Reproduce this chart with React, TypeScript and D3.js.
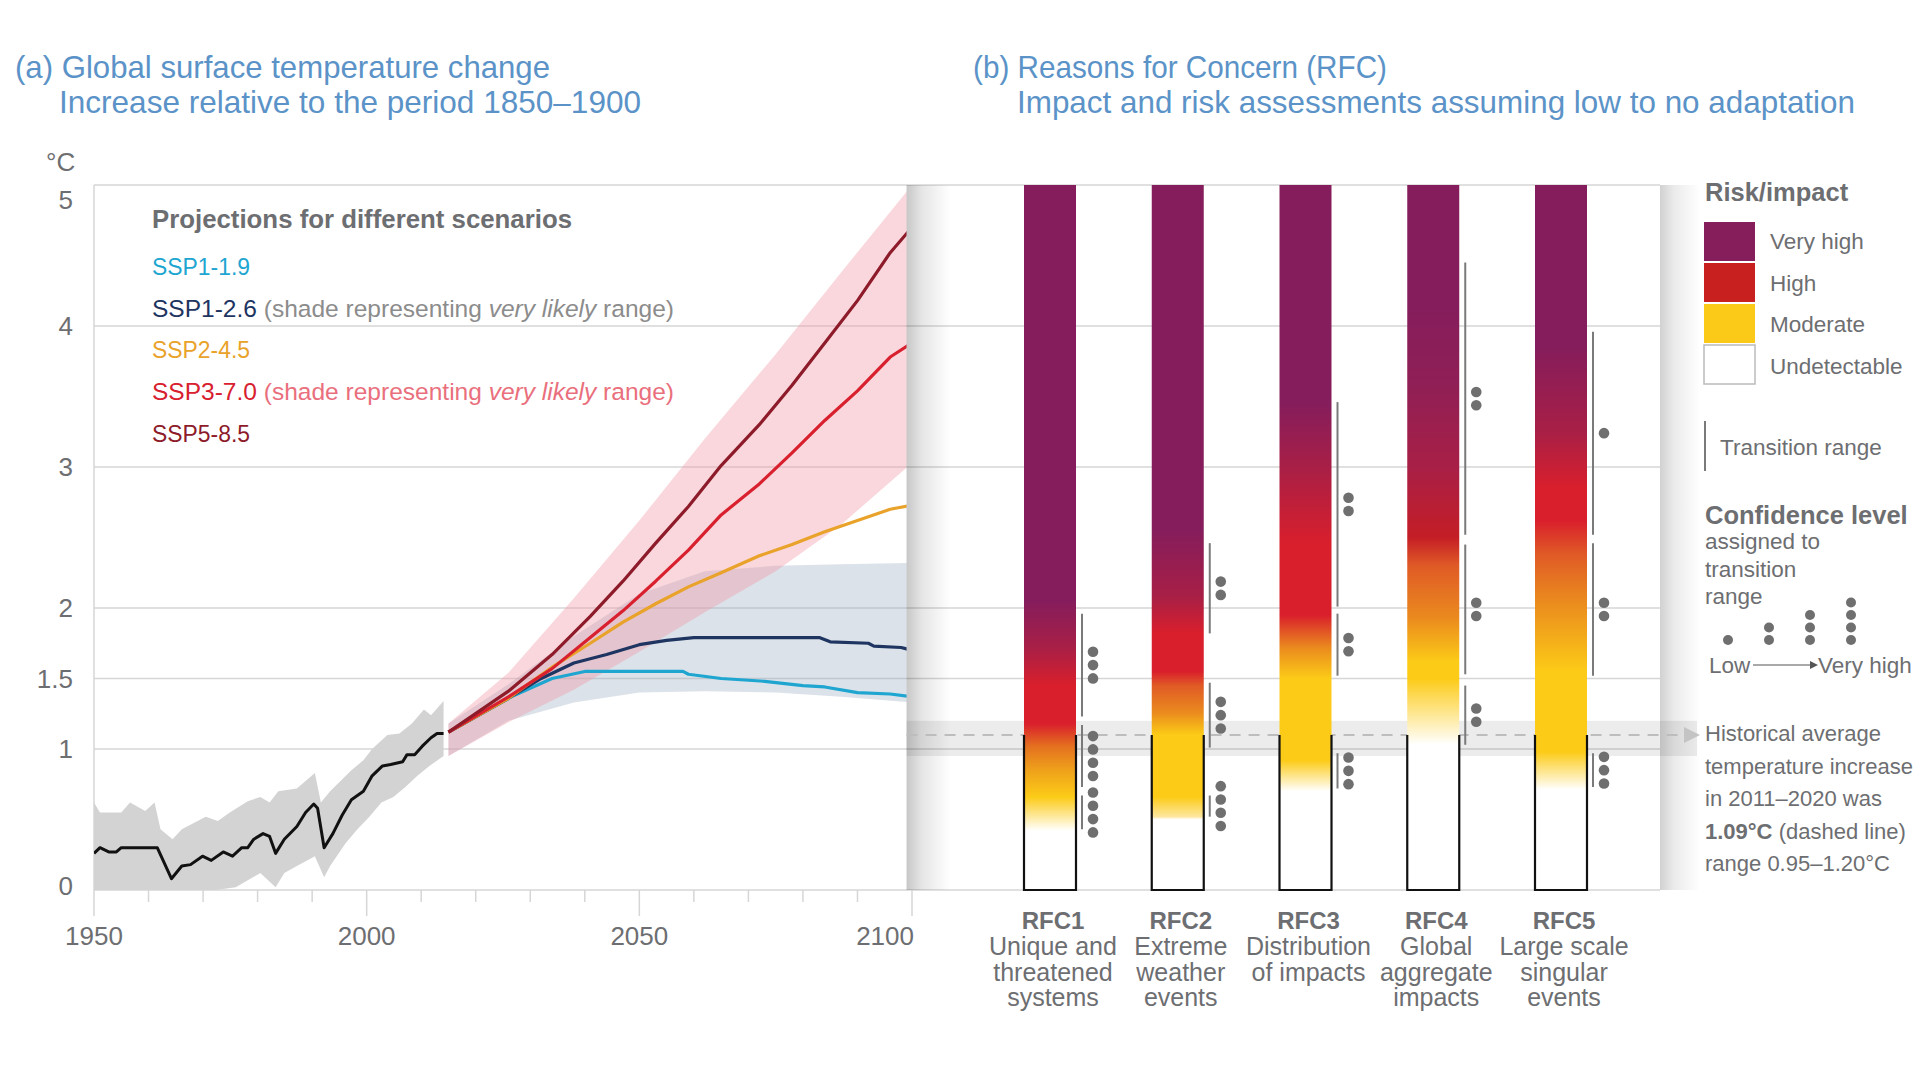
import * as d3 from "d3";

const FONT = "'Liberation Sans', Arial, Helvetica, sans-serif";
const GREY_TEXT = "#6d6e71";
const TITLE_BLUE = "#5b93c8";
const GRID = "#d6d6d6";

// historical simulations, °C relative to 1850–1900
const HIST_MEAN: [number, number][] = [
  [1950, 0.26], [1951.1, 0.3], [1952.7, 0.27], [1954.1, 0.27], [1955, 0.3], [1961.6, 0.3],
  [1964.2, 0.08], [1966.1, 0.17], [1967.7, 0.18], [1969.9, 0.24], [1971.5, 0.21], [1973.7, 0.27],
  [1975.4, 0.24], [1977.1, 0.3], [1978.2, 0.3], [1979.3, 0.36], [1981, 0.4], [1982.2, 0.38],
  [1983.3, 0.26], [1984.9, 0.36], [1987.2, 0.45], [1988.8, 0.55], [1990.3, 0.61], [1991, 0.58],
  [1992.2, 0.3], [1993.8, 0.4], [1995.5, 0.53], [1997.2, 0.64], [1999.4, 0.7], [2001, 0.81],
  [2002.9, 0.88], [2004.4, 0.89], [2006.6, 0.91], [2007.4, 0.96], [2008.8, 0.96], [2010.2, 1.02],
  [2011.8, 1.08], [2012.9, 1.11], [2014.1, 1.11],
];
const HIST_UPPER: [number, number][] = [
  [1950, 0.62], [1951.1, 0.55], [1955, 0.55], [1956.6, 0.62], [1959.4, 0.56], [1961.1, 0.62],
  [1962.2, 0.43], [1964.4, 0.36], [1966.1, 0.43], [1970.5, 0.52], [1972.7, 0.49], [1974.9, 0.55],
  [1978.2, 0.63], [1980.5, 0.66], [1982.2, 0.62], [1983.8, 0.7], [1987.2, 0.72], [1990.5, 0.83],
  [1991.6, 0.62], [1993.3, 0.7], [1997.2, 0.85], [1999.4, 0.92], [2001, 1.0], [2003.8, 1.1],
  [2006, 1.11], [2008.3, 1.18], [2010.5, 1.28], [2011.8, 1.24], [2014.1, 1.34],
];
const HIST_LOWER: [number, number][] = [
  [1950, -0.05], [1960.5, -0.05], [1963.8, -0.02], [1970.5, -0.01], [1976, 0.02], [1978.2, 0.07],
  [1980.5, 0.12], [1983.3, 0.02], [1984.9, 0.12], [1987.2, 0.17], [1990.5, 0.24], [1992.2, 0.09],
  [1993.3, 0.17], [1996.1, 0.33], [1998.3, 0.43], [2000.5, 0.52], [2002.7, 0.62], [2004.9, 0.66],
  [2007.1, 0.73], [2009.3, 0.81], [2011.5, 0.88], [2014.1, 0.95],
];

// scenario projections
const SSP119: [number, number][] = [
  [2015, 1.12], [2027, 1.38], [2034, 1.5], [2040, 1.55], [2058, 1.55], [2059, 1.53], [2065, 1.5],
  [2073, 1.48], [2080, 1.45], [2084, 1.44], [2090, 1.4], [2096, 1.39], [2100, 1.37],
];
const SSP126: [number, number][] = [
  [2015, 1.12], [2026, 1.36], [2032, 1.5], [2038, 1.61], [2044, 1.67], [2050, 1.74], [2055, 1.77],
  [2060, 1.79], [2083, 1.79], [2085, 1.76], [2092, 1.75], [2093, 1.73], [2098, 1.72], [2100, 1.7],
];
const SSP245: [number, number][] = [
  [2015, 1.12], [2026, 1.36], [2034, 1.58], [2041, 1.75], [2047, 1.9], [2053, 2.03], [2059, 2.15],
  [2065, 2.25], [2072, 2.37], [2078, 2.45], [2084, 2.54], [2090, 2.62], [2096, 2.7], [2100, 2.73],
];
const SSP370: [number, number][] = [
  [2015, 1.12], [2026, 1.37], [2034, 1.57], [2041, 1.79], [2047, 1.98], [2053, 2.19], [2059, 2.41],
  [2065, 2.66], [2072, 2.88], [2078, 3.1], [2084, 3.33], [2090, 3.54], [2096, 3.78], [2100, 3.88],
];
const SSP585: [number, number][] = [
  [2015, 1.12], [2026, 1.41], [2034, 1.67], [2041, 1.94], [2047, 2.19], [2053, 2.46], [2059, 2.72],
  [2065, 3.01], [2072, 3.3], [2078, 3.58], [2084, 3.88], [2090, 4.18], [2096, 4.52], [2100, 4.7],
];
// very likely ranges [year, low, high]
const SSP126_RANGE: [number, number, number][] = [
  [2015, 0.95, 1.18], [2026, 1.2, 1.46], [2038, 1.33, 1.8], [2050, 1.4, 2.1], [2062, 1.41, 2.26],
  [2075, 1.4, 2.3], [2087, 1.37, 2.31], [2100, 1.33, 2.32],
];
const SSP370_RANGE: [number, number, number][] = [
  [2015, 0.95, 1.18], [2026, 1.19, 1.54], [2038, 1.42, 2.07], [2050, 1.69, 2.62], [2062, 1.97, 3.2],
  [2075, 2.26, 3.8], [2087, 2.59, 4.38], [2100, 3.03, 5.0],
];

const SCENARIOS = [
  { name: "SSP1-1.9", color: "#1ea6d1", data: SSP119, note: "" },
  { name: "SSP1-2.6", color: "#1e3461", data: SSP126, note: "#8c8c8c" },
  { name: "SSP2-4.5", color: "#e9a22a", data: SSP245, note: "" },
  { name: "SSP3-7.0", color: "#d8202e", data: SSP370, note: "#ea6f7d" },
  { name: "SSP5-8.5", color: "#8d1b2a", data: SSP585, note: "" },
];

const Y_TICKS = [0, 1, 1.5, 2, 3, 4, 5];
const X_MAJOR = [1950, 2000, 2050, 2100];

// (b) reasons for concern
const RFC_IDS = ["RFC1", "RFC2", "RFC3", "RFC4", "RFC5"];
const RFC_TEXT = [
  ["Unique and", "threatened", "systems"],
  ["Extreme", "weather", "events"],
  ["Distribution", "of impacts"],
  ["Global", "aggregate", "impacts"],
  ["Large scale", "singular", "events"],
];
const W = "#ffffff", Y = "#fccb17", O = "#ea8a1e", OR = "#e05a26", R = "#d91f2c", RD = "#c41e26", CR = "#a81f46", P = "#851d5c";
const RFC_EMBERS: [number, string][][] = [
  [[0.42, W], [0.66, Y], [0.85, "#eea11b"], [1.02, "#e4701f"], [1.18, R], [1.45, R], [1.72, CR], [2.05, P]],
  [[0.5, W], [0.52, "#fde7a0"], [0.66, Y], [1.1, Y], [1.26, O], [1.45, OR], [1.55, R], [1.82, R], [2.08, CR], [2.55, P]],
  [[0.7, W], [0.92, Y], [1.5, Y], [1.72, O], [1.95, R], [2.45, R], [3.0, CR], [3.45, P]],
  [[1.03, W], [1.5, Y], [1.62, Y], [1.93, O], [2.3, OR], [2.5, RD], [3.0, CR], [3.6, "#8f1f56"], [4.15, P]],
  [[0.71, W], [0.98, Y], [1.55, Y], [2.05, O], [2.38, OR], [2.62, R], [2.85, R], [3.25, CR], [3.85, P]],
];
// transition ranges [low °C, high °C, confidence dots]
const RFC_TRANSITIONS: [number, number, number][][] = [
  [[0.43, 0.67, 4], [0.73, 1.17, 4], [1.23, 1.96, 3]],
  [[0.52, 0.67, 4], [1.01, 1.47, 3], [1.82, 2.46, 2]],
  [[0.72, 0.97, 3], [1.52, 1.96, 2], [2.01, 3.46, 2]],
  [[1.03, 1.45, 2], [1.53, 2.45, 2], [2.52, 4.45, 2]],
  [[0.73, 0.97, 3], [1.52, 2.46, 2], [2.52, 3.96, 1]],
];
const HIST_AVG = 1.1;
const HIST_RANGE = [0.95, 1.2];

const RISK_LEVELS = [
  { label: "Very high", color: "#861e5c" },
  { label: "High", color: "#c8201f" },
  { label: "Moderate", color: "#fbc918" },
  { label: "Undetectable", color: "#ffffff" },
];
const CONFIDENCE = [1, 2, 3, 4];

export default function App() {
  const x = d3.scaleLinear().domain([1950, 2100]).range([94, 912]);
  const y = d3.scaleLinear().domain([0, 5]).range([890, 185]);
  const rfcX = d3.scalePoint<string>().domain(RFC_IDS).range([1050, 1561]);
  const barW = 52;
  const aRight = x(2099);
  const gridEnd = 1660;

  const line = d3.line<[number, number]>().x((d) => x(d[0])).y((d) => y(d[1]));
  const range = d3
    .area<[number, number, number]>()
    .x((d) => x(d[0]))
    .y0((d) => y(d[1]))
    .y1((d) => y(d[2]));
  const histBand = line([...HIST_UPPER, ...[...HIST_LOWER].reverse()]) + "Z";
  const minor = d3.range(1960, 2100, 10).filter((v) => !X_MAJOR.includes(v));

  return (
    <svg
      width={1920}
      height={1080}
      style={{ position: "absolute", left: 0, top: 0, background: "#fff" }}
      fontFamily={FONT}
    >
      <defs>
        <clipPath id="clipA">
          <rect x={x(1950)} y={y(5)} width={aRight - x(1950)} height={y(0) - y(5)} />
        </clipPath>
        <linearGradient id="shadeL" x1="0" x2="1" y1="0" y2="0">
          <stop offset="0" stopColor="#000" stopOpacity={0.22} />
          <stop offset="0.35" stopColor="#000" stopOpacity={0.1} />
          <stop offset="1" stopColor="#000" stopOpacity={0} />
        </linearGradient>
        <linearGradient id="shadeR" x1="0" x2="1" y1="0" y2="0">
          <stop offset="0" stopColor="#000" stopOpacity={0.18} />
          <stop offset="0.35" stopColor="#000" stopOpacity={0.08} />
          <stop offset="1" stopColor="#000" stopOpacity={0} />
        </linearGradient>
        {RFC_EMBERS.map((stops, i) => (
          <linearGradient
            key={i}
            id={`ember${i}`}
            gradientUnits="userSpaceOnUse"
            x1={0}
            x2={0}
            y1={y(0)}
            y2={y(5)}
          >
            {stops.map(([t, c], j) => (
              <stop key={j} offset={t / 5} stopColor={c} />
            ))}
          </linearGradient>
        ))}
      </defs>

      {/* titles */}
      <text x={15} y={78} fontSize={32} fill={TITLE_BLUE} textLength={535} lengthAdjust="spacingAndGlyphs">
        (a) Global surface temperature change
      </text>
      <text x={59} y={113} fontSize={32} fill={TITLE_BLUE} textLength={582} lengthAdjust="spacingAndGlyphs">
        Increase relative to the period 1850–1900
      </text>
      <text x={973} y={78} fontSize={32} fill={TITLE_BLUE} textLength={414} lengthAdjust="spacingAndGlyphs">
        (b) Reasons for Concern (RFC)
      </text>
      <text x={1017} y={113} fontSize={32} fill={TITLE_BLUE} textLength={838} lengthAdjust="spacingAndGlyphs">
        Impact and risk assessments assuming low to no adaptation
      </text>

      {/* grid */}
      {Y_TICKS.map((v) => (
        <line key={v} x1={x(1950)} x2={gridEnd} y1={y(v)} y2={y(v)} stroke={GRID} strokeWidth={1.5} />
      ))}
      <line x1={x(1950)} x2={x(1950)} y1={y(5)} y2={y(0)} stroke={GRID} strokeWidth={1.5} />
      {minor.map((v) => (
        <line key={v} x1={x(v)} x2={x(v)} y1={y(0)} y2={y(0) + 12} stroke={GRID} strokeWidth={1.5} />
      ))}
      {X_MAJOR.map((v) => (
        <line key={v} x1={x(v)} x2={x(v)} y1={y(0)} y2={y(0) + 26} stroke={GRID} strokeWidth={1.5} />
      ))}
      {X_MAJOR.map((v, i) => {
        const last = i === X_MAJOR.length - 1;
        return (
          <text
            key={v}
            x={last ? x(v) + 2 : x(v)}
            y={945}
            fontSize={26}
            fill={GREY_TEXT}
            textAnchor={last ? "end" : "middle"}
          >
            {v}
          </text>
        );
      })}
      {Y_TICKS.map((v) => (
        <text
          key={v}
          x={73}
          y={y(v) + 9 + (v === 5 ? 15 : v === 0 ? -4 : 0)}
          fontSize={26}
          fill={GREY_TEXT}
          textAnchor="end"
        >
          {v}
        </text>
      ))}
      <text x={46} y={171} fontSize={26} fill={GREY_TEXT}>
        °C
      </text>

      {/* panel (a) data */}
      <g clipPath="url(#clipA)">
        <path d={range(SSP126_RANGE) ?? ""} fill="#9aabc0" fillOpacity={0.35} />
        <path d={range(SSP370_RANGE) ?? ""} fill="#ef9aa8" fillOpacity={0.4} />
        <path d={histBand} fill="#d3d3d3" />
        <path d={line(HIST_MEAN) ?? ""} fill="none" stroke="#111" strokeWidth={3} strokeLinejoin="round" />
        {SCENARIOS.map((s) => (
          <path
            key={s.name}
            d={line(s.data) ?? ""}
            fill="none"
            stroke={s.color}
            strokeWidth={3.2}
            strokeLinejoin="round"
          />
        ))}
      </g>

      {/* legend (a) */}
      <text x={152} y={228} fontSize={26} fontWeight="bold" fill={GREY_TEXT} textLength={420} lengthAdjust="spacingAndGlyphs">
        Projections for different scenarios
      </text>
      {SCENARIOS.map((s, i) =>
        s.note ? (
          <text key={s.name} x={152} y={275 + i * 41.7} fontSize={24.5} textLength={522} lengthAdjust="spacingAndGlyphs">
            <tspan fill={s.color}>{s.name}</tspan>
            <tspan fill={s.note}>{" (shade representing "}</tspan>
            <tspan fill={s.note} fontStyle="italic">
              very likely
            </tspan>
            <tspan fill={s.note}>{" range)"}</tspan>
          </text>
        ) : (
          <text key={s.name} x={152} y={275 + i * 41.7} fontSize={24.5} fill={s.color} textLength={98} lengthAdjust="spacingAndGlyphs">
            {s.name}
          </text>
        )
      )}

      {/* panel (b) backdrop */}
      <rect x={aRight} y={y(5)} width={44} height={y(0) - y(5)} fill="url(#shadeL)" />
      <rect x={gridEnd} y={y(5)} width={40} height={y(0) - y(5)} fill="url(#shadeR)" />
      <rect
        x={aRight}
        y={y(HIST_RANGE[1])}
        width={1697 - aRight}
        height={y(HIST_RANGE[0]) - y(HIST_RANGE[1])}
        fill="#000"
        fillOpacity={0.075}
      />
      <line x1={aRight} x2={1684} y1={y(HIST_AVG)} y2={y(HIST_AVG)} stroke="#bdbdbd" strokeWidth={2} strokeDasharray="11 8" />
      <path d={`M1684,${y(HIST_AVG) - 8}L1700,${y(HIST_AVG)}L1684,${y(HIST_AVG) + 8}Z`} fill="#c4c4c4" />

      {/* embers */}
      {RFC_IDS.map((id, i) => {
        const cx = rfcX(id) ?? 0;
        const left = cx - barW / 2;
        const right = cx + barW / 2;
        return (
          <g key={id}>
            <rect x={left} y={y(5)} width={barW} height={y(0) - y(5)} fill={`url(#ember${i})`} />
            <path
              d={`M${left},${y(HIST_AVG)}V${y(0)}H${right}V${y(HIST_AVG)}`}
              fill="none"
              stroke="#111"
              strokeWidth={2.2}
            />
            {RFC_TRANSITIONS[i].map(([lo, hi, n], j) => {
              const mid = y((lo + hi) / 2);
              return (
                <g key={j}>
                  <line x1={right + 6} x2={right + 6} y1={y(lo)} y2={y(hi)} stroke="#7a7a7a" strokeWidth={2} />
                  {d3.range(n).map((k) => (
                    <circle key={k} cx={right + 17} cy={mid + (k - (n - 1) / 2) * 13.3} r={5.3} fill="#6f6f6f" />
                  ))}
                </g>
              );
            })}
            <text x={cx + 3} y={929} fontSize={24} fontWeight="bold" fill={GREY_TEXT} textAnchor="middle">
              {id}
            </text>
            {RFC_TEXT[i].map((t, j) => (
              <text key={j} x={cx + 3} y={955 + j * 25.5} fontSize={25} fill={GREY_TEXT} textAnchor="middle">
                {t}
              </text>
            ))}
          </g>
        );
      })}

      {/* legend (b) */}
      <text x={1705} y={201} fontSize={25.5} fontWeight="bold" fill={GREY_TEXT}>
        Risk/impact
      </text>
      {RISK_LEVELS.map((r, i) => (
        <g key={r.label}>
          <rect
            x={1704}
            y={222 + i * 41}
            width={51}
            height={39}
            fill={r.color}
            stroke={r.color === "#ffffff" ? "#bbbbbb" : "none"}
            strokeWidth={1.5}
          />
          <text x={1770} y={249 + i * 41.5} fontSize={22.5} fill={GREY_TEXT}>
            {r.label}
          </text>
        </g>
      ))}
      <line x1={1705} x2={1705} y1={421} y2={471} stroke="#7a7a7a" strokeWidth={2} />
      <text x={1720} y={455} fontSize={22.5} fill={GREY_TEXT}>
        Transition range
      </text>
      <text x={1705} y={524} fontSize={25.5} fontWeight="bold" fill={GREY_TEXT}>
        Confidence level
      </text>
      {["assigned to", "transition", "range"].map((t, i) => (
        <text key={t} x={1705} y={549 + i * 27.5} fontSize={22.5} fill={GREY_TEXT}>
          {t}
        </text>
      ))}
      {CONFIDENCE.map((n, i) => (
        <g key={n}>
          {d3.range(n).map((k) => (
            <circle key={k} cx={1728 + i * 41} cy={640 - k * 12.5} r={5} fill="#6f6f6f" />
          ))}
        </g>
      ))}
      <text x={1709} y={673} fontSize={22.5} fill={GREY_TEXT}>
        Low
      </text>
      <line x1={1753} x2={1810} y1={665} y2={665} stroke="#555" strokeWidth={1.2} />
      <path d="M1810,661L1818,665L1810,669Z" fill="#555" />
      <text x={1818} y={673} fontSize={22.5} fill={GREY_TEXT}>
        Very high
      </text>

      {["Historical average", "temperature increase", "in 2011–2020 was"].map((t, i) => (
        <text key={t} x={1705} y={741 + i * 32.5} fontSize={22} fill={GREY_TEXT}>
          {t}
        </text>
      ))}
      <text x={1705} y={838.5} fontSize={22} fill={GREY_TEXT}>
        <tspan fontWeight="bold">1.09°C</tspan>
        <tspan>{" (dashed line)"}</tspan>
      </text>
      <text x={1705} y={871} fontSize={22} fill={GREY_TEXT}>
        range 0.95–1.20°C
      </text>
    </svg>
  );
}
